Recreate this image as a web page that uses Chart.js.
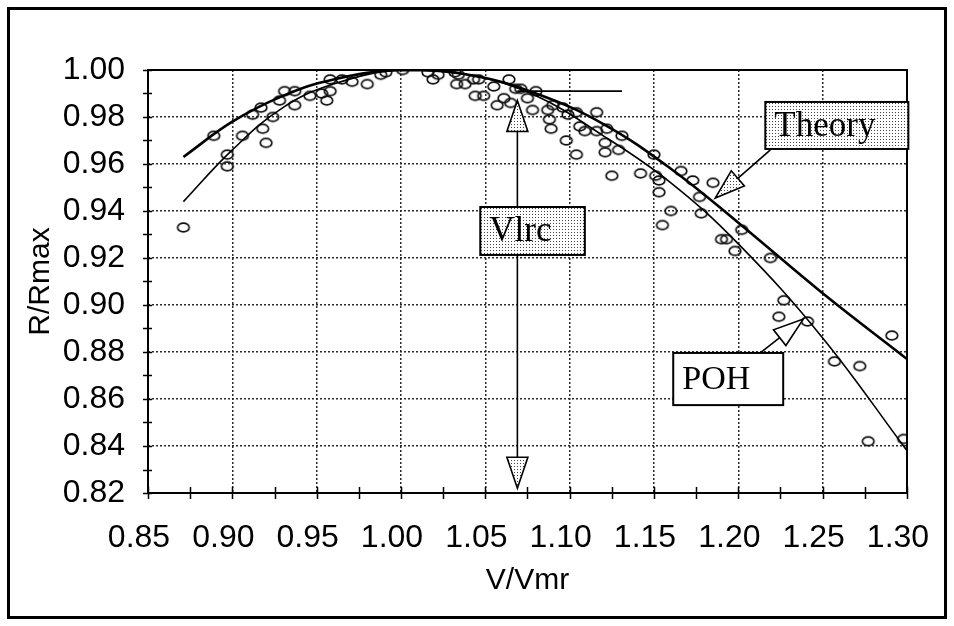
<!DOCTYPE html>
<html>
<head>
<meta charset="utf-8">
<script src="https://cdn.jsdelivr.net/npm/chart.js@4.4.1/dist/chart.umd.min.js"></script>
<style>
  html, body { margin: 0; padding: 0; background: #fff; }
  #wrap { width: 954px; height: 626px; }
</style>
</head>
<body>
<div id="wrap"><canvas id="chart" width="954" height="626"></canvas></div>
<script>
// measured points (V/Vmr, R/Rmax)
const measV = [0.871, 0.889, 0.897, 0.897, 0.906, 0.912, 0.917, 0.918, 0.920, 0.924,
  0.928, 0.931, 0.937, 0.937, 0.946, 0.953, 0.956, 0.958, 0.958, 0.965,
  0.971, 0.980, 0.988, 0.991, 1.001, 1.016, 1.019, 1.022, 1.032, 1.034,
  1.033, 1.038, 1.043, 1.046, 1.044, 1.049, 1.055, 1.057, 1.061, 1.064,
  1.065, 1.068, 1.071, 1.075, 1.078, 1.080, 1.087, 1.090, 1.088, 1.089,
  1.096, 1.099, 1.098, 1.104, 1.106, 1.104, 1.109, 1.116, 1.116, 1.121,
  1.122, 1.121, 1.129, 1.131, 1.125, 1.142, 1.150, 1.151, 1.153, 1.153,
  1.166, 1.173, 1.177, 1.185, 1.178, 1.160, 1.155, 1.190, 1.193, 1.202,
  1.198, 1.219, 1.227, 1.224, 1.241, 1.257, 1.272, 1.291, 1.277, 1.298];
const measR = [0.933, 0.972, 0.964, 0.959, 0.972, 0.981, 0.984, 0.975, 0.969, 0.980,
  0.987, 0.991, 0.991, 0.985, 0.989, 0.990, 0.987, 0.991, 0.996, 0.996,
  0.995, 0.994, 0.998, 0.999, 1.000, 0.999, 0.996, 0.998, 0.999, 0.998,
  0.994, 0.994, 0.996, 0.996, 0.989, 0.989, 0.993, 0.985, 0.988, 0.996,
  0.986, 0.992, 0.992, 0.988, 0.983, 0.991, 0.983, 0.985, 0.979, 0.975,
  0.984, 0.981, 0.970, 0.982, 0.976, 0.964, 0.974, 0.982, 0.974, 0.969,
  0.975, 0.965, 0.966, 0.972, 0.955, 0.956, 0.964, 0.955, 0.953, 0.948,
  0.957, 0.953, 0.946, 0.952, 0.939, 0.940, 0.934, 0.928, 0.928, 0.932,
  0.923, 0.920, 0.902, 0.895, 0.893, 0.876, 0.874, 0.887, 0.842, 0.843];

// fitted curves
const theoryV = [0.871, 0.90, 0.93, 0.96, 1.00, 1.04, 1.08, 1.12, 1.16, 1.20, 1.25, 1.30];
const theoryR = [0.963, 0.978, 0.989, 0.996, 1.000, 0.998, 0.990, 0.977, 0.958, 0.935, 0.905, 0.877];
const pohV = [0.871, 0.90, 0.93, 0.96, 1.00, 1.04, 1.08, 1.12, 1.16, 1.20, 1.25, 1.30];
const pohR = [0.944, 0.966, 0.984, 0.994, 1.000, 0.998, 0.989, 0.972, 0.952, 0.926, 0.886, 0.838];

// axis ranges
const xMin = 0.85, xMax = 1.30, xStep = 0.05;
const yMin = 0.82, yMax = 1.00, yStep = 0.02;

// annotation anchors in data units
const vlrc = 1.069;
const vlrcTips = [0.987, 0.822];
const vlrcBox = [1.047, 0.9417, 1.109, 0.9213];
const levelLine = [1.069, 1.131, 0.991];
const theoryBox = [1.216, 0.9864, 1.3008, 0.9664];
const theoryArrow = [1.219, 0.966, 1.1863, 0.9455];
const pohBox = [1.1614, 0.8796, 1.2266, 0.8574];
const pohArrow = [1.213, 0.8796, 1.2385, 0.894];

const zip = (xs, ys) => xs.map((x, i) => ({ x: x, y: ys[i] }));

function ringImage() {
  const c = document.createElement("canvas");
  c.width = 16; c.height = 13;
  const g = c.getContext("2d");
  g.strokeStyle = "#111";
  g.lineWidth = 1.7;
  g.beginPath();
  g.ellipse(8, 6.5, 5.8, 4.4, 0, 0, Math.PI * 2);
  g.stroke();
  return c;
}

function stipple(ctx) {
  const t = document.createElement("canvas");
  t.width = 3; t.height = 3;
  const g = t.getContext("2d");
  g.fillStyle = "#fff";
  g.fillRect(0, 0, 3, 3);
  g.fillStyle = "#444";
  g.fillRect(1, 1, 1, 1);
  return ctx.createPattern(t, "repeat");
}

const near = (a, b) => Math.abs(a - b) < 1e-6;

const decor = {
  id: "decor",
  afterDatasetsDraw(chart) {
    const { ctx, chartArea: a, scales } = chart;
    const sx = scales.x, sy = scales.y;
    const X = v => sx.getPixelForValue(v), Y = v => sy.getPixelForValue(v);
    const dots = stipple(ctx);
    ctx.save();
    ctx.setLineDash([]);
    ctx.strokeStyle = "#000";
    ctx.fillStyle = "#000";

    // plot frame
    ctx.lineWidth = 2;
    ctx.strokeRect(a.left, a.top, a.right - a.left, a.bottom - a.top);

    // crossing tick marks, major and minor
    ctx.lineWidth = 1.5;
    ctx.beginPath();
    for (let v = yMin; v <= yMax + 1e-9; v += yStep / 2) {
      const p = Math.round(Y(v)) + 0.5;
      ctx.moveTo(a.left - 5, p); ctx.lineTo(a.left + 4, p);
    }
    for (let v = xMin; v <= xMax + 1e-9; v += xStep / 2) {
      const p = Math.round(X(v)) + 0.5;
      ctx.moveTo(p, a.bottom - 6); ctx.lineTo(p, a.bottom + 6);
    }
    ctx.stroke();

    // 0.99 level line
    ctx.lineWidth = 1.8;
    ctx.beginPath();
    ctx.moveTo(X(levelLine[0]), Y(levelLine[2]));
    ctx.lineTo(X(levelLine[1]), Y(levelLine[2]));
    ctx.stroke();

    function arrow(fx, fy, tx, ty, len, half, fill) {
      const dx = tx - fx, dy = ty - fy, d = Math.hypot(dx, dy);
      const ux = dx / d, uy = dy / d;
      const bx = tx - ux * len, by = ty - uy * len;
      ctx.lineWidth = 1.6;
      ctx.beginPath();
      ctx.moveTo(fx, fy); ctx.lineTo(bx, by);
      ctx.stroke();
      ctx.beginPath();
      ctx.moveTo(tx, ty);
      ctx.lineTo(bx - uy * half, by + ux * half);
      ctx.lineTo(bx + uy * half, by - ux * half);
      ctx.closePath();
      ctx.fillStyle = fill;
      ctx.fill();
      ctx.stroke();
    }

    function box(b, text, size, fill) {
      const x1 = X(b[0]), y1 = Y(b[1]), x2 = X(b[2]), y2 = Y(b[3]);
      ctx.fillStyle = fill;
      ctx.fillRect(x1, y1, x2 - x1, y2 - y1);
      ctx.lineWidth = 2;
      ctx.strokeRect(x1, y1, x2 - x1, y2 - y1);
      ctx.fillStyle = "#000";
      ctx.font = size + "px 'Liberation Serif', 'Times New Roman', serif";
      ctx.textBaseline = "middle";
      ctx.textAlign = "left";
      ctx.fillText(text, x1 + 9, (y1 + y2) / 2 + 1);
    }

    // Vlrc marker
    const bx1 = Y(vlrcBox[1]), bx2 = Y(vlrcBox[3]);
    arrow(X(vlrc), bx1, X(vlrc), Y(vlrcTips[0]), 31, 10.5, dots);
    arrow(X(vlrc), bx2, X(vlrc), Y(vlrcTips[1]), 31, 10.5, dots);
    box(vlrcBox, "Vlrc", 35, dots);

    // Theory label
    arrow(X(theoryArrow[0]), Y(theoryArrow[1]), X(theoryArrow[2]), Y(theoryArrow[3]), 30, 10, dots);
    box(theoryBox, "Theory", 35, dots);

    // POH label
    arrow(X(pohArrow[0]), Y(pohArrow[1]), X(pohArrow[2]), Y(pohArrow[3]), 30, 10, "#fff");
    box(pohBox, "POH", 34, "#fff");

    ctx.restore();
  },
  afterDraw(chart) {
    const ctx = chart.ctx;
    ctx.save();
    ctx.setLineDash([]);
    ctx.strokeStyle = "#000";
    ctx.lineWidth = 3;
    ctx.strokeRect(8.5, 8.5, 937, 609);
    ctx.restore();
  }
};

const gridColor = (lo, hi) => c =>
  (near(c.tick.value, lo) || near(c.tick.value, hi)) ? "rgba(0,0,0,0)" : "#2a2a2a";

new Chart(document.getElementById("chart"), {
  type: "scatter",
  data: {
    datasets: [
      {
        label: "Measured",
        data: zip(measV, measR),
        pointStyle: ringImage(),
        pointRadius: 6,
        order: 2
      },
      {
        label: "Theory",
        data: zip(theoryV, theoryR),
        showLine: true,
        borderColor: "#000",
        borderWidth: 2.6,
        pointRadius: 0,
        tension: 0.4,
        fill: false,
        order: 1
      },
      {
        label: "POH",
        data: zip(pohV, pohR),
        showLine: true,
        borderColor: "#000",
        borderWidth: 1.6,
        pointRadius: 0,
        tension: 0.4,
        fill: false,
        order: 1
      }
    ]
  },
  options: {
    responsive: false,
    devicePixelRatio: 1,
    animation: false,
    layout: { padding: { left: 8, right: 47, top: 70, bottom: 8 } },
    plugins: { legend: { display: false }, tooltip: { enabled: false } },
    scales: {
      x: {
        type: "linear",
        min: xMin, max: xMax,
        afterFit: s => { s.height = 125; s.paddingLeft = 0; s.paddingRight = 0; },
        ticks: {
          stepSize: xStep,
          padding: 26,
          labelOffset: -9,
          color: "#000",
          font: { family: "'Liberation Sans', Arial, sans-serif", size: 32, lineHeight: 1.2 },
          callback: v => v.toFixed(2)
        },
        grid: { color: gridColor(xMin, xMax), lineWidth: 1.5, drawTicks: false },
        border: { display: false, dash: [2, 2] },
        title: {
          display: true, text: "V/Vmr", color: "#000",
          font: { family: "'Liberation Sans', Arial, sans-serif", size: 30, lineHeight: 1.2 },
          padding: { bottom: 19 }
        }
      },
      y: {
        type: "linear",
        min: yMin, max: yMax,
        afterFit: s => { s.width = 140; },
        ticks: {
          stepSize: yStep,
          padding: 23,
          color: "#000",
          font: { family: "'Liberation Sans', Arial, sans-serif", size: 32, lineHeight: 1.2 },
          callback: v => v.toFixed(2)
        },
        grid: { color: gridColor(yMin, yMax), lineWidth: 1.5, drawTicks: false },
        border: { display: false, dash: [2, 2] },
        title: {
          display: true, text: "R/Rmax", color: "#000",
          font: { family: "'Liberation Sans', Arial, sans-serif", size: 30, lineHeight: 1.2 },
          padding: { top: 15 }
        }
      }
    }
  },
  plugins: [decor]
});
</script>
</body>
</html>
